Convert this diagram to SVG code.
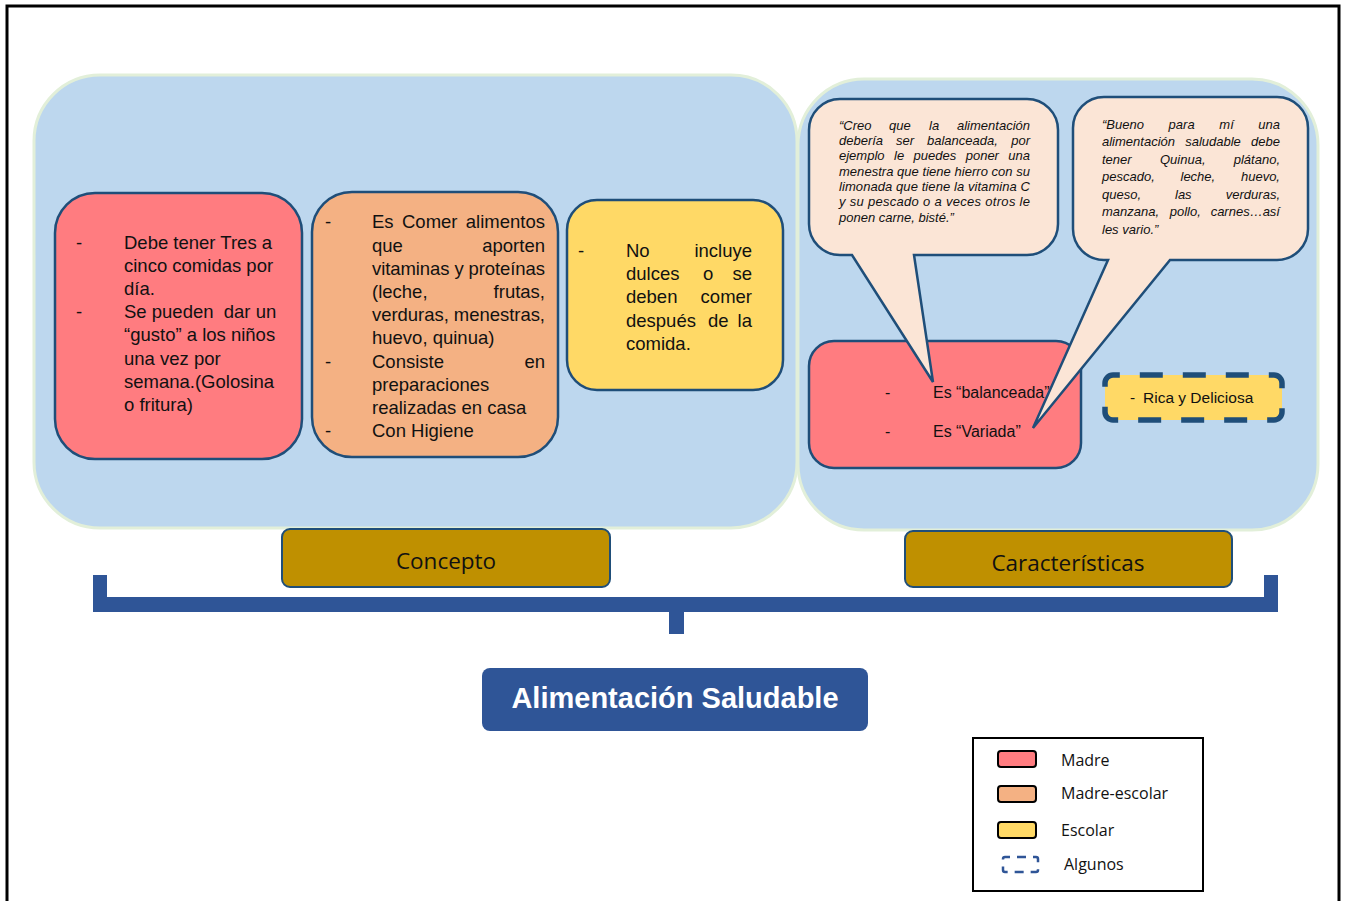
<svg xmlns="http://www.w3.org/2000/svg" width="1347" height="901" viewBox="0 0 1347 901">
<style>
.panel{fill:#BDD7EE;stroke:#E2EFD9;stroke-width:3}
.box{stroke:#1F4E79;stroke-width:2.5}
.red{fill:#FF7C80}.orange{fill:#F4B183}.yellow{fill:#FFD966}
.callout{fill:#FBE5D6;stroke:#1F4E79;stroke-width:2.5;stroke-linejoin:miter}
.t{font-family:"Liberation Sans",Arial,sans-serif;font-size:18.5px;fill:#111}
.q{font-family:"Liberation Sans",Arial,sans-serif;font-size:13px;font-style:italic;fill:#111}
.s{font-family:"Liberation Sans",Arial,sans-serif;font-size:16px;fill:#111}
.lab{fill:#BF9000;stroke:#1F4E79;stroke-width:2}
.cal{font-family:"Open Sans","Noto Sans",sans-serif;font-size:22.5px;fill:#111;text-anchor:middle}
.leg{font-family:"Open Sans","Noto Sans",sans-serif;font-size:16px;fill:#111}
.sw{stroke:#000;stroke-width:2}
</style>
<rect x="7" y="6" width="1332" height="910" fill="#fff" stroke="#000" stroke-width="3"/>
<g id="panel-concepto"><rect class="panel" x="34" y="75" width="763" height="453" rx="66"/></g>
<g id="panel-caracteristicas"><rect class="panel" x="798" y="79" width="520" height="451" rx="66"/></g>

<g id="concepto-madre">
<rect class="box red" x="55" y="193" width="247" height="266" rx="40"/>
<g class="t">
<text x="76" y="249">-</text><text x="76" y="318">-</text>
<text x="124" y="249">Debe tener Tres a</text>
<text x="124" y="272">cinco comidas por</text>
<text x="124" y="295">día.</text>
<text x="124" y="318">Se pueden&#160; dar un</text>
<text x="124" y="341">“gusto” a los niños</text>
<text x="124" y="365">una vez por</text>
<text x="124" y="388">semana.(Golosina</text>
<text x="124" y="411">o fritura)</text>
</g>
</g>

<g id="concepto-madre-escolar">
<rect class="box orange" x="312" y="192" width="246" height="265" rx="40"/>
<g class="t">
<text x="325" y="228">-</text><text x="325" y="368">-</text><text x="325" y="437">-</text>
<text x="372" y="228">Es</text><text x="402" y="228">Comer</text><text x="545" y="228" text-anchor="end">alimentos</text>
<text x="372" y="252">que</text><text x="545" y="252" text-anchor="end">aporten</text>
<text x="372" y="275" textLength="173" lengthAdjust="spacing">vitaminas y proteínas</text>
<text x="372" y="298">(leche,</text><text x="545" y="298" text-anchor="end">frutas,</text>
<text x="372" y="321" textLength="173" lengthAdjust="spacing">verduras, menestras,</text>
<text x="372" y="344">huevo, quinua)</text>
<text x="372" y="368">Consiste</text><text x="545" y="368" text-anchor="end">en</text>
<text x="372" y="391">preparaciones</text>
<text x="372" y="414">realizadas en casa</text>
<text x="372" y="437">Con Higiene</text>
</g>
</g>

<g id="concepto-escolar">
<rect class="box yellow" x="567" y="200" width="216" height="190" rx="30"/>
<g class="t">
<text x="578" y="257">-</text>
<text x="626" y="257">No</text><text x="752" y="257" text-anchor="end">incluye</text>
<text x="626" y="280">dulces</text><text x="703" y="280">o</text><text x="752" y="280" text-anchor="end">se</text>
<text x="626" y="303">deben</text><text x="752" y="303" text-anchor="end">comer</text>
<text x="626" y="327">después</text><text x="708" y="327">de</text><text x="752" y="327" text-anchor="end">la</text>
<text x="626" y="350">comida.</text>
</g>
</g>

<g id="caract-madre">
<rect class="box red" x="809" y="341" width="272" height="127" rx="25"/>
<g class="s">
<text x="885" y="398">-</text><text x="933" y="398">Es “balanceada”</text>
<text x="885" y="437">-</text><text x="933" y="437">Es “Variada”</text>
</g>
</g>

<g id="cita-1">
<path class="callout" d="M840,99 H1027 A31,31 0 0 1 1058,130 V224 A31,31 0 0 1 1027,255 H914 L933,382 L852,255 H840 A31,31 0 0 1 809,224 V130 A31,31 0 0 1 840,99 Z"/>
<g class="q">
<text x="839" y="129.5">“Creo</text><text x="889" y="129.5">que</text><text x="929" y="129.5">la</text><text x="1030" y="129.5" text-anchor="end">alimentación</text>
<text x="839" y="144.8">debería</text><text x="896" y="144.8">ser</text><text x="927" y="144.8">balanceada,</text><text x="1030" y="144.8" text-anchor="end">por</text>
<text x="839" y="160.2">ejemplo</text><text x="894" y="160.2">le</text><text x="913.6" y="160.2">puedes</text><text x="965.7" y="160.2">poner</text><text x="1030" y="160.2" text-anchor="end">una</text>
<text x="839" y="175.5" textLength="191" lengthAdjust="spacing">menestra que tiene hierro con su</text>
<text x="839" y="190.8" textLength="191" lengthAdjust="spacing">limonada que tiene la vitamina C</text>
<text x="839" y="206.2" textLength="191" lengthAdjust="spacing">y su pescado o a veces otros le</text>
<text x="839" y="221.5">ponen carne, bisté.”</text>
</g>
</g>

<g id="cita-2">
<path class="callout" d="M1104,97 H1277 A31,31 0 0 1 1308,128 V229 A31,31 0 0 1 1277,260 H1170 L1033,428 L1108,260 H1104 A31,31 0 0 1 1073,229 V128 A31,31 0 0 1 1104,97 Z"/>
<g class="q">
<text x="1102" y="128.5">“Bueno</text><text x="1168.6" y="128.5">para</text><text x="1219.3" y="128.5">mí</text><text x="1280" y="128.5" text-anchor="end">una</text>
<text x="1102" y="146">alimentación</text><text x="1185.2" y="146">saludable</text><text x="1280" y="146" text-anchor="end">debe</text>
<text x="1102" y="163.5">tener</text><text x="1160" y="163.5">Quinua,</text><text x="1280" y="163.5" text-anchor="end">plátano,</text>
<text x="1102" y="181">pescado,</text><text x="1180.5" y="181">leche,</text><text x="1280" y="181" text-anchor="end">huevo,</text>
<text x="1102" y="198.5">queso,</text><text x="1175" y="198.5">las</text><text x="1280" y="198.5" text-anchor="end">verduras,</text>
<text x="1102" y="216">manzana,</text><text x="1169.7" y="216">pollo,</text><text x="1280" y="216" text-anchor="end">carnes…así</text>
<text x="1102" y="233.5">les vario.”</text>
</g>
</g>

<g id="caract-algunos">
<rect class="yellow" x="1105" y="375" width="177" height="45" rx="8" stroke="#1F4E79" stroke-width="5.5" stroke-dasharray="23 20" stroke-dashoffset="16.2"/>
<text x="1130" y="403" font-family="Liberation Sans, Arial, sans-serif" font-size="15.5" fill="#111">-</text>
<text x="1143" y="403" font-family="Liberation Sans, Arial, sans-serif" font-size="15.5" fill="#111">Rica y Deliciosa</text>
</g>

<g id="label-concepto">
<rect class="lab" x="282" y="529" width="328" height="58" rx="8"/>
<text class="cal" x="446" y="569">Concepto</text>
</g>
<g id="label-caracteristicas">
<rect class="lab" x="905" y="531" width="327" height="56" rx="8"/>
<text class="cal" x="1068" y="571">Características</text>
</g>

<g id="connectors">
<polygon fill="#2F5597" points="93,575 107,575 107,597 1264,597 1264,575 1278,575 1278,612 684,612 684,634 669,634 669,612 93,612"/>
</g>

<g id="titulo">
<rect x="482" y="668" width="386" height="63" rx="8" fill="#2F5597"/>
<text x="675" y="708" text-anchor="middle" font-family="Liberation Sans, Arial, sans-serif" font-size="29" font-weight="bold" fill="#fff">Alimentación Saludable</text>
</g>

<g id="leyenda">
<rect x="973" y="738" width="230" height="153" fill="#fff" stroke="#000" stroke-width="2"/>
<rect class="sw red" x="998" y="751" width="38" height="16" rx="3"/>
<rect class="sw orange" x="998" y="786" width="38" height="16" rx="3"/>
<rect class="sw yellow" x="998" y="822" width="38" height="16" rx="3"/>
<rect x="1003" y="857" width="35" height="15" rx="2" fill="none" stroke="#2F5597" stroke-width="2.5" stroke-dasharray="9 7" stroke-dashoffset="4"/>
<text class="leg" x="1061" y="766">Madre</text>
<text class="leg" x="1061" y="799">Madre-escolar</text>
<text class="leg" x="1061" y="836">Escolar</text>
<text class="leg" x="1064" y="870">Algunos</text>
</g>
</svg>
